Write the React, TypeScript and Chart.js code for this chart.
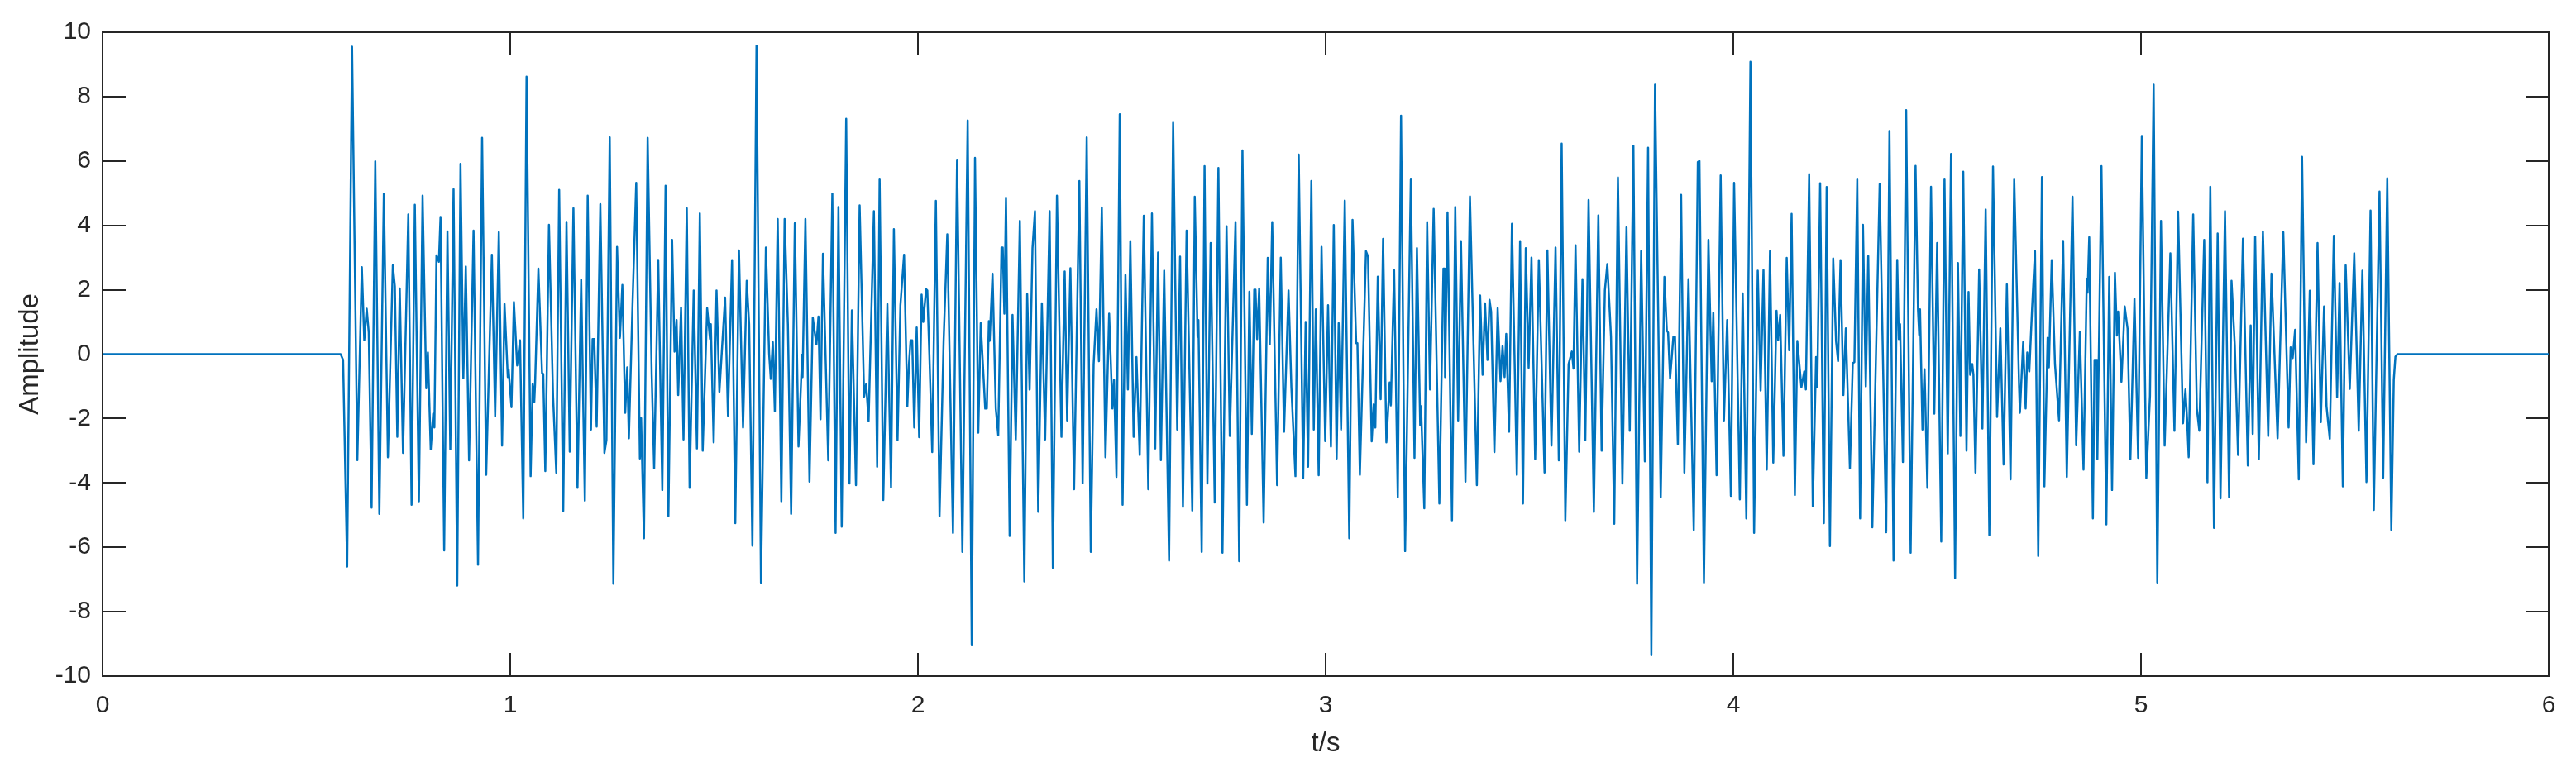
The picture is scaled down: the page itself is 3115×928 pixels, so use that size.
import React, { useEffect, useRef } from "react";
import { Chart, registerables } from "chart.js";

Chart.register(...registerables);

type P = [number, number];

const quietStart: P[] = [[0, 0], [0.584, 0], [0.59, -0.18]];

const second1: P[] = [
  [0.6,-6.6],[0.612,9.55],[0.625,-3.29],[0.636,2.7],[0.642,0.43],[0.648,1.41],[0.653,0.67],[0.66,-4.77],[0.669,5.99],[0.679,-4.96],
  [0.69,4.99],[0.7,-3.2],[0.712,2.76],[0.717,2.11],[0.723,-2.57],[0.729,2.04],[0.737,-3.07],[0.75,4.34],[0.758,-4.68],[0.766,4.64],
  [0.776,-4.57],[0.785,4.92],[0.794,-1.06],[0.798,0.05],[0.805,-2.96],[0.811,-1.85],[0.814,-2.28],[0.819,3.07],[0.825,2.87],[0.829,4.26],
  [0.838,-6.1],[0.846,3.81],[0.853,-2.96],[0.861,5.12],[0.87,-7.19],[0.878,5.91],[0.885,-0.75],[0.891,2.72],[0.899,-3.3],[0.91,3.84],
  [0.921,-6.54],[0.931,6.72],[0.941,-3.75],[0.955,3.09],[0.963,-1.93],[0.972,3.79],[0.98,-2.84],[0.986,1.56],[0.994,-0.71],[0.996,-0.48],
  [1.003,-1.65],[1.009,1.62],[1.017,-0.35],[1.024,0.43],[1.032,-5.1],[1.04,8.62],[1.05,-3.79],[1.055,-0.93],[1.059,-1.49],[1.061,-0.9],
  [1.069,2.66],[1.078,-0.58],[1.081,-0.62],[1.086,-3.63],[1.095,4.02],[1.105,-1.3],[1.113,-3.68],[1.12,5.1],[1.13,-4.87],[1.138,4.11],
  [1.146,-3.03],[1.155,4.53],[1.165,-4.15],[1.174,2.31],[1.183,-4.55],[1.19,4.92],[1.198,-2.34],[1.202,0.47],[1.206,0.47],[1.212,-2.25],
  [1.221,4.66],[1.231,-3.07],[1.236,-2.67],[1.244,6.73],[1.253,-7.13],[1.262,3.33],[1.269,0.51],[1.275,2.15],[1.282,-1.82],[1.287,-0.41],
  [1.291,-2.61],[1.3,1.58],[1.309,5.32],[1.318,-3.24],[1.321,-1.99],[1.328,-5.72],[1.337,6.72],[1.347,-0.64],[1.353,-3.55],[1.363,2.93],
  [1.373,-4.22],[1.381,5.23],[1.388,-5.03],[1.397,3.55],[1.403,0.08],[1.408,1.06],[1.412,-1.27],[1.419,1.45],[1.425,-2.65],[1.433,4.53],
  [1.44,-4.15],[1.45,1.98],[1.458,-2.93],[1.465,4.37],[1.472,-3.0],[1.483,1.43],[1.49,0.47],[1.492,0.93],[1.499,-2.74],
];

const second2: P[] = [
  [1.506,1.98],[1.513,-1.17],[1.527,1.76],[1.534,-1.91],[1.544,2.92],[1.552,-5.25],[1.561,3.22],[1.571,-2.28],[1.58,2.28],[1.586,0.93],
  [1.594,-5.95],[1.604,9.58],[1.615,-7.1],[1.627,3.31],[1.635,0.01],[1.639,-0.77],[1.644,0.37],[1.649,-1.78],[1.656,4.2],[1.665,-4.57],
  [1.673,4.2],[1.681,0.93],[1.689,-4.96],[1.698,4.07],[1.707,-2.87],[1.716,-0.01],[1.717,-0.71],[1.724,4.2],[1.734,-3.96],[1.742,1.13],
  [1.751,0.3],[1.756,1.17],[1.761,-2.02],[1.767,3.12],[1.78,-3.3],[1.79,4.99],[1.798,-5.55],[1.805,4.57],[1.813,-5.36],[1.824,7.31],
  [1.832,-4.02],[1.838,1.36],[1.848,-4.07],[1.857,4.62],[1.868,-1.32],[1.873,-0.93],[1.879,-2.08],[1.892,4.44],[1.9,-3.5],[1.906,5.45],
  [1.915,-4.53],[1.925,1.56],[1.934,-4.14],[1.941,3.88],[1.95,-2.67],[1.957,1.52],[1.966,3.09],[1.974,-1.62],[1.978,-0.31],[1.982,0.43],
  [1.986,0.43],[1.991,-2.28],[1.997,0.83],[2.003,-2.58],[2.009,1.85],[2.013,1.0],[2.02,2.02],[2.023,1.98],[2.028,0.01],[2.035,-3.04],
  [2.044,4.76],[2.053,-5.03],[2.063,0.41],[2.072,3.72],[2.086,-5.55],[2.096,6.04],[2.109,-6.14],[2.122,7.26],[2.132,-9.02],[2.14,6.1],
  [2.148,-2.44],[2.154,0.96],[2.165,-1.69],[2.169,-1.69],[2.174,1.03],[2.176,0.41],[2.183,2.5],[2.191,-1.69],[2.197,-2.52],[2.205,3.31],
  [2.208,3.31],[2.212,1.26],[2.216,4.86],[2.225,-5.65],[2.232,1.22],[2.24,-2.65],[2.25,4.14],[2.261,-7.06],[2.268,1.87],[2.274,-1.1],
  [2.281,3.29],[2.287,4.44],[2.295,-4.9],[2.304,1.58],[2.312,-2.65],[2.323,4.44],[2.331,-6.64],[2.341,4.92],[2.352,-2.57],[2.36,2.57],
  [2.366,-2.06],[2.374,2.67],[2.383,-4.2],[2.396,5.38],[2.404,-4.01],[2.414,6.73],[2.424,-6.14],[2.431,-0.31],[2.438,1.39],[2.444,-0.22],
  [2.451,4.56],[2.46,-3.2],[2.469,1.26],[2.477,-1.69],[2.481,-0.8],[2.487,-3.81],[2.495,7.45],
];

const second3: P[] = [
  [2.502,-4.68],[2.509,2.46],[2.515,-1.1],[2.521,3.51],[2.529,-2.57],[2.536,-0.09],[2.544,-3.13],[2.554,4.3],[2.565,-4.2],[2.574,4.37],
  [2.582,-2.93],[2.589,3.16],[2.596,-3.29],[2.604,2.59],[2.616,-6.41],[2.626,7.19],[2.636,-2.34],[2.643,3.03],[2.65,-4.74],[2.659,3.84],
  [2.673,-4.86],[2.679,4.89],[2.686,0.54],[2.688,1.06],[2.696,-6.14],[2.703,5.84],[2.71,-4.02],[2.718,3.45],[2.728,-4.61],[2.737,5.78],
  [2.747,-6.17],[2.757,3.97],[2.765,-2.54],[2.779,4.1],[2.788,-6.43],[2.796,6.33],[2.807,-4.68],[2.813,1.94],[2.819,-2.48],[2.825,2.0],
  [2.828,2.0],[2.832,0.47],[2.837,2.04],[2.848,-5.23],[2.858,2.99],[2.863,0.3],[2.869,4.1],[2.881,-4.07],[2.89,3.0],[2.898,-2.41],
  [2.909,1.98],[2.916,-1.03],[2.926,-3.79],[2.934,6.2],[2.945,-3.85],[2.951,1.0],[2.957,-3.5],[2.965,5.38],[2.971,-2.34],[2.976,1.39],
  [2.983,-3.76],[2.99,3.33],[2.999,-2.7],[3.006,1.52],[3.013,-2.87],[3.02,4.01],[3.027,-3.24],[3.032,0.96],[3.038,-2.34],[3.047,4.77],
  [3.058,-5.72],[3.066,4.17],[3.075,0.34],[3.078,0.34],[3.084,-3.75],[3.099,3.2],[3.104,3.03],[3.113,-2.71],[3.118,-1.56],[3.122,-2.28],
  [3.128,2.41],[3.135,-1.4],[3.141,3.58],[3.149,-2.74],[3.157,-0.88],[3.16,-1.59],[3.168,2.61],[3.177,-4.44],[3.185,7.41],[3.195,-6.12],
  [3.209,5.45],[3.218,-3.22],[3.224,3.29],[3.232,-2.21],[3.234,-1.62],[3.242,-4.79],[3.249,4.1],[3.256,-1.1],[3.265,4.51],[3.279,-4.64],
  [3.289,2.66],[3.292,2.66],[3.293,-0.71],[3.299,4.4],[3.31,-5.16],[3.318,4.57],[3.325,-2.06],[3.332,3.51],[3.343,-3.96],[3.354,4.9],
  [3.371,-4.07],[3.379,1.82],[3.385,-0.64],[3.391,1.58],[3.397,-0.18],[3.402,1.69],[3.406,1.32],[3.414,-3.04],[3.422,1.43],[3.429,-0.84],
  [3.434,0.25],[3.439,-0.71],[3.443,0.63],[3.45,-2.41],[3.457,4.05],[3.469,-3.75],[3.477,3.51],[3.484,-4.64],[3.491,3.29],[3.498,-0.42],
];

const second4: P[] = [
  [3.505,3.0],[3.514,-3.26],[3.523,2.92],[3.537,-3.68],[3.544,3.22],[3.554,-2.84],[3.564,3.31],[3.572,-3.3],[3.579,6.54],[3.588,-5.16],
  [3.596,-0.31],[3.604,0.08],[3.608,-0.45],[3.613,3.38],[3.622,-3.03],[3.63,2.33],[3.637,-2.67],[3.645,4.79],[3.658,-4.9],[3.669,4.31],
  [3.677,-3.0],[3.685,1.98],[3.691,2.8],[3.7,0.54],[3.708,-5.27],[3.717,5.49],[3.728,-4.02],[3.738,3.94],[3.746,-2.38],[3.755,6.47],
  [3.764,-7.13],[3.774,3.2],[3.783,-3.33],[3.791,6.41],[3.799,-9.35],[3.808,8.37],[3.822,-4.44],[3.831,2.4],[3.837,0.73],[3.84,0.67],
  [3.845,-0.75],[3.853,0.54],[3.857,0.54],[3.864,-2.8],[3.872,4.95],[3.88,-3.68],[3.89,2.33],[3.903,-5.46],[3.913,5.97],[3.917,6.0],
  [3.928,-7.09],[3.939,3.55],[3.947,-0.84],[3.951,1.28],[3.959,-3.76],[3.969,5.55],[3.977,-2.06],[3.985,1.06],[3.994,-4.4],[4.002,5.32],
  [4.016,-4.51],[4.023,1.89],[4.032,-5.1],[4.042,9.08],[4.051,-5.55],[4.06,2.59],[4.067,-1.13],[4.074,2.61],[4.082,-3.59],[4.09,3.2],
  [4.098,-3.37],[4.106,1.35],[4.11,0.43],[4.115,1.22],[4.123,-3.16],[4.131,2.99],[4.137,0.12],[4.143,4.36],[4.151,-4.38],[4.157,0.41],
  [4.167,-1.03],[4.174,-0.54],[4.178,-1.1],[4.186,5.59],[4.195,-4.73],[4.203,-0.09],[4.206,-1.03],[4.213,5.31],[4.222,-5.25],[4.229,5.19],
  [4.237,-5.96],[4.245,2.97],[4.252,0.41],[4.257,-0.22],[4.263,2.92],[4.27,-1.27],[4.276,0.8],[4.286,-3.55],[4.293,-0.28],[4.297,-0.25],
  [4.304,5.45],[4.311,-5.1],[4.318,4.02],[4.325,-1.0],[4.331,3.05],[4.341,-5.38],[4.35,0.01],[4.359,5.28],[4.375,-5.53],[4.383,6.93],
  [4.393,-6.41],[4.402,2.93],[4.406,0.47],[4.409,0.93],[4.416,-3.35],[4.424,7.58],[4.435,-6.17],[4.447,5.85],[4.453,1.39],[4.456,0.6],
  [4.458,1.39],[4.464,-2.34],[4.469,-0.47],[4.476,-4.15],[4.485,5.2],[4.493,-1.85],
];

const second5: P[] = [
  [4.5,3.45],[4.51,-5.82],[4.518,5.45],[4.526,-3.09],[4.534,6.22],[4.544,-6.96],[4.551,2.83],[4.557,-2.54],[4.564,5.67],[4.572,-3.0],
  [4.577,1.93],[4.581,-0.64],[4.586,-0.31],[4.589,-0.64],[4.594,-3.68],[4.603,2.63],[4.611,-2.31],[4.619,4.49],[4.628,-5.62],[4.637,5.83],
  [4.647,-1.95],[4.655,0.8],[4.663,-3.43],[4.671,2.17],[4.68,-3.89],[4.689,5.45],[4.701,-1.03],[4.703,-1.82],[4.711,0.38],[4.717,-1.69],
  [4.721,0.05],[4.726,-0.54],[4.733,1.45],[4.74,3.2],[4.748,-6.27],[4.757,5.5],[4.763,-4.11],[4.771,0.51],[4.774,-0.41],[4.781,2.92],
  [4.789,-0.31],[4.799,-2.06],[4.809,3.52],[4.818,-3.81],[4.832,4.89],[4.841,-2.83],[4.85,0.69],[4.859,-3.59],[4.867,2.34],[4.869,1.91],
  [4.873,3.63],[4.882,-5.1],[4.886,-0.18],[4.892,-0.18],[4.893,-3.26],[4.903,5.84],[4.915,-5.29],[4.922,2.4],[4.929,-4.22],[4.936,2.53],
  [4.941,0.58],[4.944,1.32],[4.952,-0.86],[4.96,1.48],[4.967,0.8],[4.974,-3.26],[4.984,1.72],[4.993,-3.22],[5.002,6.78],[5.013,-3.85],
  [5.022,-1.3],[5.031,8.37],[5.04,-7.09],[5.049,4.14],[5.058,-2.84],[5.072,3.13],[5.082,-2.38],[5.091,4.43],[5.103,-2.15],[5.109,-1.1],
  [5.113,-2.02],[5.117,-3.2],[5.128,4.34],[5.137,-1.69],[5.143,-2.38],[5.155,3.55],[5.163,-3.98],[5.17,5.2],[5.179,-5.4],[5.188,3.75],
  [5.195,-4.48],[5.206,4.44],[5.216,-4.44],[5.222,2.28],[5.23,0.28],[5.238,-3.13],[5.25,3.59],[5.262,-3.46],[5.269,0.89],[5.274,-2.48],
  [5.28,3.65],[5.289,-3.26],[5.299,3.81],[5.312,-2.54],[5.32,2.5],[5.335,-2.61],[5.349,3.79],[5.362,-2.28],[5.367,0.21],[5.372,-0.12],
  [5.378,0.76],[5.387,-3.89],[5.395,6.13],[5.405,-2.74],[5.414,1.97],[5.423,-3.42],[5.433,3.45],[5.441,-2.11],[5.449,1.48],[5.455,-1.62],
  [5.463,-2.63],[5.473,3.68],[5.481,-1.34],[5.487,2.21],[5.495,-4.11],[5.502,2.76],[5.512,-1.08],[5.523,3.13],[5.534,-2.38],[5.543,2.59],
  [5.553,-3.97],[5.563,4.46],[5.571,-4.84],[5.585,5.05],[5.594,-3.84],[5.604,5.46],[5.614,-5.46],
];

const quietEnd: P[] = [[5.62, -0.8], [5.624, -0.08], [5.629, 0], [6, 0]];

const signal = [...quietStart, ...second1, ...second2, ...second3, ...second4, ...second5, ...quietEnd];

const xTickValues = [0, 1, 2, 3, 4, 5, 6];
const yTickValues = [-10, -8, -6, -4, -2, 0, 2, 4, 6, 8, 10];

const INK = "#262626";
const FONT = "'Liberation Sans', Arial, sans-serif";

const frame = {
  id: "frame",
  beforeDatasetsDraw(chart: any) {
    const { ctx, chartArea: a, scales } = chart;
    const len = 28;
    ctx.save();
    ctx.strokeStyle = INK;
    ctx.lineWidth = 2;
    ctx.beginPath();
    ctx.rect(a.left, a.top, a.right - a.left, a.bottom - a.top);
    for (const v of xTickValues.slice(1, -1)) {
      const x = Math.round(scales.x.getPixelForValue(v));
      ctx.moveTo(x, a.bottom);
      ctx.lineTo(x, a.bottom - len);
      ctx.moveTo(x, a.top);
      ctx.lineTo(x, a.top + len);
    }
    for (const v of yTickValues.slice(1, -1)) {
      const y = Math.round(scales.y.getPixelForValue(v));
      ctx.moveTo(a.left, y);
      ctx.lineTo(a.left + len, y);
      ctx.moveTo(a.right, y);
      ctx.lineTo(a.right - len, y);
    }
    ctx.stroke();
    ctx.restore();
  },
};

export default function App() {
  const ref = useRef<HTMLCanvasElement>(null);
  useEffect(() => {
    document.body.style.margin = "0";
    const chart = new Chart(ref.current as HTMLCanvasElement, {
      type: "line",
      data: {
        datasets: [
          {
            data: signal.map(([x, y]) => ({ x, y })),
            borderColor: "#0072BD",
            borderWidth: 2.5,
            pointRadius: 0,
            tension: 0,
            fill: false,
            clip: false as any,
            borderJoinStyle: "round",
          },
        ],
      },
      options: {
        animation: false,
        responsive: false,
        devicePixelRatio: 1,
        parsing: false as any,
        layout: { padding: { left: 0, right: 33, top: 39, bottom: 0 } },
        plugins: { legend: { display: false }, tooltip: { enabled: false } },
        scales: {
          x: {
            type: "linear",
            min: 0,
            max: 6,
            afterFit: (s: any) => { s.height = 110; },
            afterBuildTicks: (s: any) => { s.ticks = xTickValues.map((value) => ({ value })); },
            grid: { display: false, drawTicks: false },
            border: { display: false },
            ticks: { color: INK, font: { family: FONT, size: 30 }, padding: 18, maxRotation: 0, autoSkip: false },
            title: { display: true, text: "t/s", color: INK, font: { family: FONT, size: 33 }, padding: { top: 2, bottom: 8 } },
          },
          y: {
            type: "linear",
            min: -10,
            max: 10,
            afterFit: (s: any) => { s.width = 124; },
            afterBuildTicks: (s: any) => { s.ticks = yTickValues.map((value) => ({ value })); },
            grid: { display: false, drawTicks: false },
            border: { display: false },
            ticks: { color: INK, font: { family: FONT, size: 30 }, padding: 14, autoSkip: false },
            title: { display: true, text: "Amplitude", color: INK, font: { family: FONT, size: 33 }, padding: { top: 17, bottom: 0 } },
          },
        },
      },
      plugins: [frame],
    } as any);
    return () => chart.destroy();
  }, []);
  return (
    <div style={{ position: "absolute", left: 0, top: 0, width: 3115, height: 928, background: "#fff" }}>
      <canvas ref={ref} width={3115} height={928} style={{ display: "block", filter: "blur(0.6px)" }} />
    </div>
  );
}
